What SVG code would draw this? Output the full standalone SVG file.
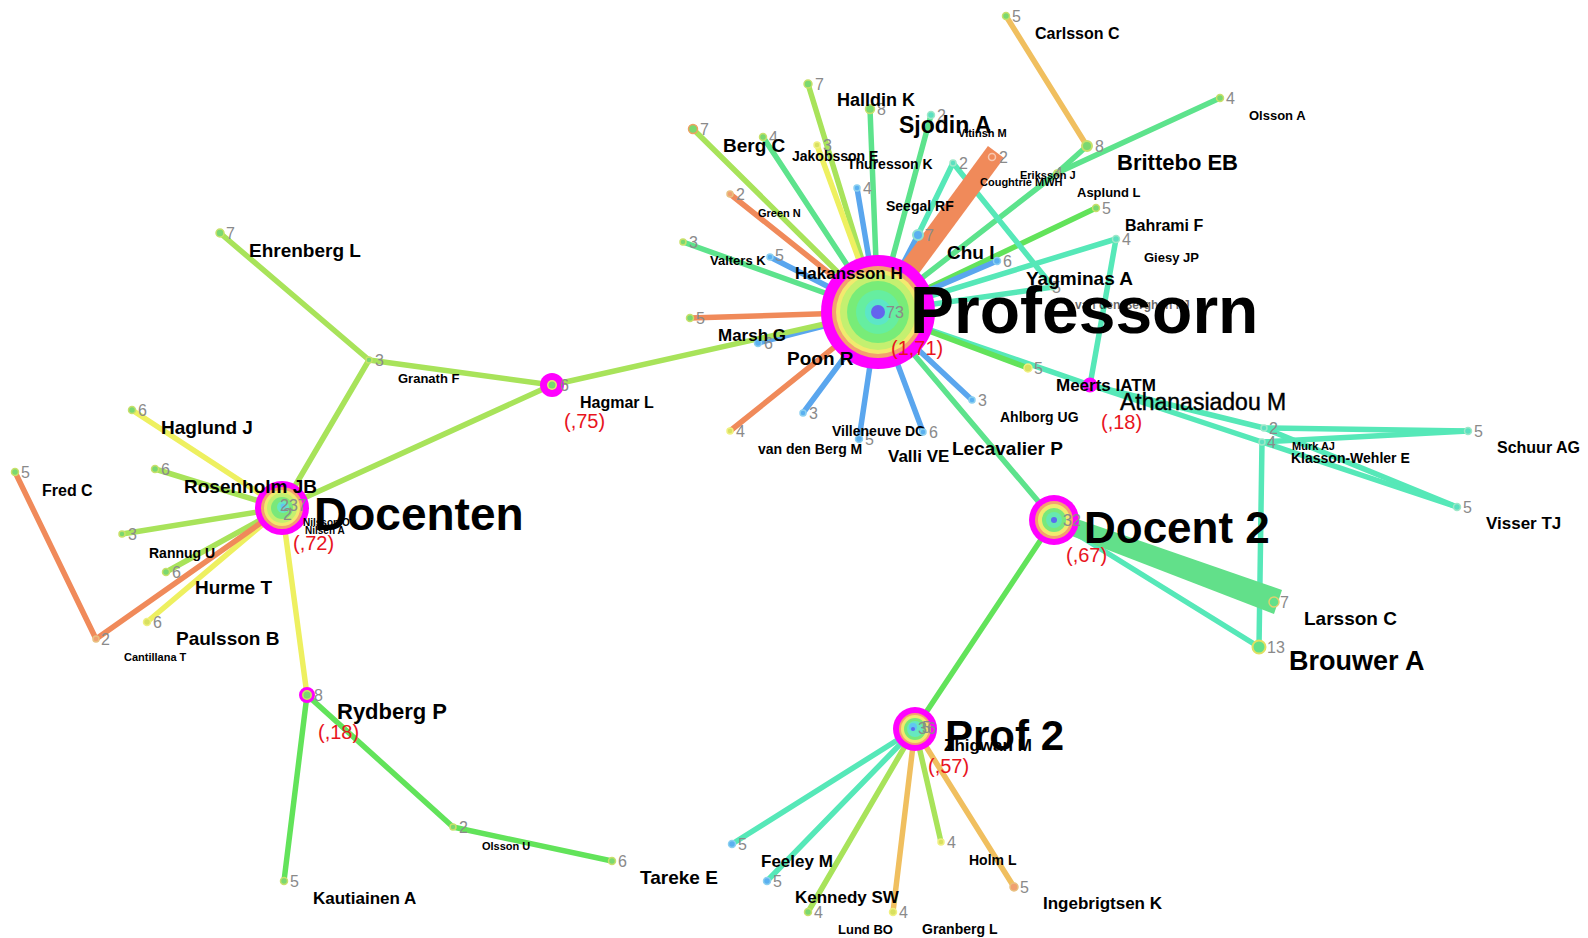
<svg xmlns="http://www.w3.org/2000/svg" width="1588" height="938" viewBox="0 0 1588 938">
<style>
.e{stroke-width:5.5;stroke-linecap:round;fill:none}
.G{stroke:#5de38c}.A{stroke:#56e8b8}.B{stroke:#62e35a}.YG{stroke:#a8e35a}.Y{stroke:#eef060}.O{stroke:#f08a5a}.LO{stroke:#f0bf5f}.BL{stroke:#5aa6ee}
.d{stroke-width:1.5}
.dg{fill:#7ad870;stroke:#c8e06a}.da{fill:#5ce0c0;stroke:#9ee8c8}.db{fill:#5ab0f0;stroke:#8cd0f0}.do{fill:#f0a070;stroke:#e8c080}.dy{fill:#d8e060;stroke:#f0f080}
.n{font-family:"Liberation Sans",Arial,sans-serif;font-size:16px;fill:#8a8a8a}
.l{font-family:"Liberation Sans",Arial,sans-serif;font-weight:bold;fill:#000}
.r{font-family:"Liberation Sans",Arial,sans-serif;font-size:20px;fill:#e8141e}
</style>
<rect width="1588" height="938" fill="#fff"/>
<g id="connectors">
<line class="e YG" x1="878" y1="312" x2="808" y2="84"/>
<line class="e G" x1="878" y1="312" x2="870" y2="109"/>
<line class="e G" x1="878" y1="312" x2="931" y2="115"/>
<line class="e YG" x1="878" y1="312" x2="693" y2="129"/>
<line class="e G" x1="878" y1="312" x2="763" y2="137"/>
<line class="e Y" x1="878" y1="312" x2="817" y2="145"/>
<line class="e BL" x1="878" y1="312" x2="857" y2="188"/>
<line class="e O" x1="878" y1="312" x2="730" y2="194"/>
<line class="e G" x1="878" y1="312" x2="683" y2="242"/>
<line class="e BL" x1="878" y1="312" x2="770" y2="257"/>
<line class="e O" x1="878" y1="312" x2="690" y2="318"/>
<line class="e BL" x1="878" y1="312" x2="758" y2="343"/>
<line class="e YG" x1="878" y1="312" x2="552" y2="385"/>
<line class="e O" x1="878" y1="312" x2="730" y2="431"/>
<line class="e BL" x1="878" y1="312" x2="803" y2="413"/>
<line class="e BL" x1="878" y1="312" x2="859" y2="439"/>
<line class="e BL" x1="878" y1="312" x2="923" y2="432"/>
<line class="e BL" x1="878" y1="312" x2="972" y2="400"/>
<line class="e G" x1="878" y1="312" x2="1054" y2="520"/>
<line class="e A" x1="878" y1="312" x2="1090" y2="385"/>
<line class="e B" x1="878" y1="312" x2="1028" y2="368"/>
<line class="e A" x1="878" y1="312" x2="1053" y2="287"/>
<line class="e A" x1="878" y1="312" x2="1116" y2="239"/>
<line class="e B" x1="878" y1="312" x2="1096" y2="208"/>
<line class="e G" x1="878" y1="312" x2="1057" y2="173"/>
<line class="e G" x1="1057" y1="173" x2="1087" y2="146"/>
<line class="e G" x1="1057" y1="173" x2="1220" y2="98"/>
<line class="e LO" x1="1006" y1="16" x2="1087" y2="146"/>
<line class="e BL" x1="878" y1="312" x2="997" y2="261"/>
<line class="e BL" x1="878" y1="312" x2="918" y2="235"/>
<line class="e A" x1="918" y1="235" x2="953" y2="163"/>
<line class="e A" x1="953" y1="163" x2="1053" y2="287"/>
<line x1="878" y1="312" x2="996" y2="152" stroke="#f08a5a" stroke-width="20"/>
<line class="e A" x1="1090" y1="385" x2="1116" y2="239"/>
<line class="e A" x1="1090" y1="385" x2="1264" y2="428"/>
<line class="e A" x1="1090" y1="385" x2="1262" y2="442"/>
<line class="e A" x1="1264" y1="428" x2="1468" y2="431"/>
<line class="e A" x1="1262" y1="442" x2="1468" y2="431"/>
<line class="e A" x1="1264" y1="428" x2="1457" y2="507"/>
<line class="e A" x1="1262" y1="442" x2="1457" y2="507"/>
<line class="e A" x1="1262" y1="442" x2="1259" y2="647"/>
<line class="e A" x1="1054" y1="520" x2="1259" y2="647"/>
<polygon points="1057,512 1051,528 1274,614 1282,590" fill="#62e08a"/>
<line class="e B" x1="1054" y1="520" x2="915" y2="729"/>
<line class="e A" x1="915" y1="729" x2="732" y2="844"/>
<line class="e A" x1="915" y1="729" x2="767" y2="881"/>
<line class="e YG" x1="915" y1="729" x2="808" y2="912"/>
<line class="e LO" x1="915" y1="729" x2="893" y2="912"/>
<line class="e YG" x1="915" y1="729" x2="941" y2="842"/>
<line class="e LO" x1="915" y1="729" x2="1014" y2="887"/>
<line class="e YG" x1="552" y1="385" x2="369" y2="360"/>
<line class="e YG" x1="369" y1="360" x2="220" y2="233"/>
<line class="e YG" x1="369" y1="360" x2="282" y2="508"/>
<line class="e YG" x1="552" y1="385" x2="282" y2="508"/>
<line class="e Y" x1="282" y1="508" x2="132" y2="410"/>
<line class="e YG" x1="282" y1="508" x2="155" y2="469"/>
<line class="e YG" x1="282" y1="508" x2="122" y2="534"/>
<line class="e YG" x1="282" y1="508" x2="166" y2="572"/>
<line class="e Y" x1="282" y1="508" x2="147" y2="622"/>
<line class="e O" x1="282" y1="508" x2="96" y2="639"/>
<line class="e O" x1="96" y1="639" x2="15" y2="472"/>
<line class="e Y" x1="282" y1="508" x2="307" y2="695"/>
<line class="e B" x1="307" y1="695" x2="284" y2="881"/>
<line class="e B" x1="307" y1="695" x2="453" y2="827"/>
<line class="e B" x1="453" y1="827" x2="612" y2="861"/>
</g>
<g id="professorn">
<circle cx="878" cy="312" r="57" fill="#ff00ff"/>
<circle cx="878" cy="312" r="46" fill="#f4a070"/>
<circle cx="878" cy="312" r="42" fill="#f2ea6e"/>
<circle cx="878" cy="312" r="38" fill="#c4f070"/>
<circle cx="878" cy="312" r="31" fill="#78ec78"/>
<circle cx="878" cy="312" r="22" fill="#66eea0"/>
<circle cx="878" cy="312" r="13" fill="#5ce6c8"/>
<circle cx="878" cy="312" r="7" fill="#6464ee"/>
<text class="n" x="886" y="318" font-size="17">73</text>
<text class="l" x="910" y="333" font-size="66">Professorn</text>
<text class="r" x="891" y="355">(1,71)</text>
</g>
<g id="docent2">
<circle cx="1054" cy="520" r="25" fill="#ff00ff"/>
<circle cx="1054" cy="520" r="19" fill="#f4a070"/>
<circle cx="1054" cy="520" r="16" fill="#f2ea6e"/>
<circle cx="1054" cy="520" r="12" fill="#7ae87a"/>
<circle cx="1054" cy="520" r="8" fill="#66e8b0"/>
<circle cx="1054" cy="520" r="3" fill="#5a6cee"/>
<text class="n" x="1063" y="526">32</text>
<text class="l" x="1084" y="543" font-size="44">Docent 2</text>
<text class="r" x="1066" y="562">(,67)</text>
</g>
<g id="prof2">
<circle cx="915" cy="729" r="22" fill="#ff00ff"/>
<circle cx="915" cy="729" r="16" fill="#f4a070"/>
<circle cx="915" cy="729" r="14" fill="#f2ea6e"/>
<circle cx="915" cy="729" r="11" fill="#7ae87a"/>
<circle cx="915" cy="729" r="8" fill="#66e8c0"/>
<circle cx="913" cy="727" r="4" fill="#60c8f0"/>
<circle cx="913" cy="729" r="2" fill="#5a6cee"/>
<text class="n" x="918" y="734" font-size="15">36</text>
<text class="n" x="922" y="733" font-size="15">5</text>
<text class="l" x="945" y="750" font-size="42">Prof 2</text>
<text class="l" x="944" y="751" font-size="17">Zhigwan M</text>
<text class="r" x="928" y="773">(,57)</text>
</g>
<g id="docenten">
<circle cx="282" cy="508" r="27" fill="#ff00ff"/>
<circle cx="282" cy="508" r="21" fill="#f4a070"/>
<circle cx="282" cy="508" r="18" fill="#f2ea6e"/>
<circle cx="282" cy="508" r="15" fill="#c4f070"/>
<circle cx="282" cy="508" r="11" fill="#7ae87a"/>
<circle cx="283" cy="507" r="6" fill="#66e8c0"/>
<circle cx="283" cy="506" r="2.5" fill="#60c8f0"/>
<text class="n" x="280" y="511">237</text>
<text class="n" x="283" y="520">2</text>
<text class="l" x="303" y="526" font-size="10">Nilsson O</text>
<text class="l" x="305" y="534" font-size="10">Nilsen A</text>
<text class="l" x="314" y="530" font-size="46">Docenten</text>
<text class="r" x="293" y="550">(,72)</text>
</g>
<g id="hagmar">
<circle cx="552" cy="385" r="12" fill="#ff00ff"/>
<circle cx="552" cy="385" r="5" fill="#e8e870"/>
<circle cx="552" cy="385" r="3.5" fill="#7ad870"/>
<text class="n" x="560" y="391">6</text>
<text class="l" x="580" y="408" font-size="16">Hagmar L</text>
<text class="r" x="564" y="428">(,75)</text>
</g>
<g id="meerts">
<circle cx="1090" cy="385" r="7.5" fill="#ff00ff"/>
<circle cx="1090" cy="385" r="3" fill="#e070e0"/>
<text class="l" x="1056" y="391" font-size="17">Meerts IATM</text>
<text class="r" x="1101" y="429">(,18)</text>
</g>
<g id="rydberg">
<circle cx="307" cy="695" r="6.5" fill="#c8e860" stroke="#ff00ff" stroke-width="3"/>
<circle cx="307" cy="695" r="3.5" fill="#7ad870"/>
<text class="n" x="314" y="701">8</text>
<text class="l" x="337" y="719" font-size="22">Rydberg P</text>
<text class="r" x="318" y="739">(,18)</text>
</g>
<g id="nodes">
<g id="n-top7"><circle class="d dg" cx="808" cy="84" r="4"/><text class="n" x="815" y="90">7</text></g>
<g id="n-halldin"><circle class="d dg" cx="870" cy="109" r="4.5"/><text class="n" x="877" y="115">8</text><text class="l" x="837" y="106" font-size="18">Halldin K</text></g>
<g id="n-sjodin"><circle class="d da" cx="931" cy="115" r="3.5"/><text class="n" x="937" y="121">2</text><text class="l" x="899" y="133" font-size="23">Sjodin A</text></g>
<g id="n-vitinsh"><circle cx="992" cy="157" r="3.5" fill="none" stroke="#f8c8b0" stroke-width="1.5"/><text class="n" x="999" y="163">2</text><text class="l" x="958" y="137" font-size="11">Vitinsh M</text></g>
<g id="n-left7"><circle class="d dg" cx="693" cy="129" r="4.5" style="stroke:#f0a060"/><text class="n" x="700" y="135">7</text></g>
<g id="n-berg"><circle class="d dg" cx="763" cy="137" r="3.5"/><text class="n" x="769" y="143">4</text><text class="l" x="723" y="152" font-size="19">Berg C</text></g>
<g id="n-jakobsson"><circle class="d dy" cx="817" cy="145" r="3"/><text class="n" x="823" y="151">3</text><text class="l" x="792" y="161" font-size="14">Jakobsson E</text></g>
<g id="n-thuresson"><text class="l" x="847" y="169" font-size="14">Thuresson K</text></g>
<g id="n-blue4"><circle class="d db" cx="857" cy="188" r="3"/><text class="n" x="863" y="194">4</text></g>
<g id="n-green"><circle class="d do" cx="730" cy="194" r="3"/><text class="n" x="736" y="200">2</text><text class="l" x="758" y="217" font-size="11">Green N</text></g>
<g id="n-valters3"><circle class="d dg" cx="683" cy="242" r="3"/><text class="n" x="689" y="248">3</text></g>
<g id="n-valters"><circle class="d db" cx="770" cy="257" r="3"/><text class="n" x="775" y="261">5</text><text class="l" x="710" y="265" font-size="13">Valters K</text></g>
<g id="n-seegal"><circle cx="918" cy="235" r="5" fill="#5ab0f0" stroke="#8ee0d0" stroke-width="2"/><text class="n" x="925" y="241">7</text><text class="l" x="886" y="211" font-size="14">Seegal RF</text></g>
<g id="n-seegal2"><circle class="d da" cx="953" cy="163" r="3"/><text class="n" x="959" y="169">2</text></g>
<g id="n-chu"><circle class="d db" cx="997" cy="261" r="3.5"/><text class="n" x="1003" y="267">6</text><text class="l" x="947" y="259" font-size="19">Chu I</text></g>
<g id="n-coughtrie"><text class="l" x="980" y="186" font-size="11">Coughtrie MWH</text></g>
<g id="n-eriksson"><circle class="d dg" cx="1057" cy="173" r="3"/><text class="n" x="1054" y="179">4</text><text class="l" x="1020" y="179" font-size="11">Eriksson J</text></g>
<g id="n-brittebo"><circle cx="1087" cy="146" r="5" fill="#7ad870" stroke="#c8e06a" stroke-width="2"/><text class="n" x="1095" y="152">8</text><text class="l" x="1117" y="170" font-size="22">Brittebo EB</text></g>
<g id="n-carlsson"><circle class="d dg" cx="1006" cy="16" r="3.5"/><text class="n" x="1012" y="22">5</text><text class="l" x="1035" y="39" font-size="16">Carlsson C</text></g>
<g id="n-olssona"><circle class="d dg" cx="1220" cy="98" r="3.5"/><text class="n" x="1226" y="104">4</text><text class="l" x="1249" y="120" font-size="13">Olsson A</text></g>
<g id="n-asplund"><circle class="d dg" cx="1096" cy="208" r="3.5"/><text class="n" x="1102" y="214">5</text><text class="l" x="1077" y="197" font-size="13">Asplund L</text></g>
<g id="n-bahrami"><circle class="d da" cx="1116" cy="239" r="3.5"/><text class="n" x="1122" y="245">4</text><text class="l" x="1125" y="231" font-size="16">Bahrami F</text><text class="l" x="1144" y="262" font-size="13">Giesy JP</text></g>
<g id="n-yagminas"><circle class="d da" cx="1053" cy="287" r="3"/><text class="n" x="1052" y="293">5</text><text class="l" x="1026" y="285" font-size="19">Yagminas A</text></g>
<g id="n-vanberghen"><text class="l" x="1075" y="309" font-size="12" fill-opacity="0.6">van den Berghen FJ</text></g>
<g id="n-hakansson"><text class="l" x="795" y="279" font-size="17">Hakansson H</text></g>
<g id="n-orange5"><circle class="d dg" cx="690" cy="318" r="3.5"/><text class="n" x="696" y="324">5</text></g>
<g id="n-marsh"><circle class="d db" cx="758" cy="343" r="3.5"/><text class="n" x="764" y="349">6</text><text class="l" x="718" y="341" font-size="17">Marsh G</text></g>
<g id="n-poon"><text class="l" x="787" y="365" font-size="19">Poon R</text></g>
<g id="n-orange4"><circle class="d dy" cx="730" cy="431" r="3"/><text class="n" x="736" y="437">4</text></g>
<g id="n-blue3"><circle class="d db" cx="803" cy="413" r="3"/><text class="n" x="809" y="419">3</text></g>
<g id="n-vandenberg"><circle class="d db" cx="859" cy="439" r="3.5"/><text class="n" x="865" y="445">5</text><text class="l" x="758" y="454" font-size="14">van den Berg M</text></g>
<g id="n-villeneuve"><text class="l" x="832" y="436" font-size="14">Villeneuve DC</text></g>
<g id="n-valli"><circle class="d db" cx="923" cy="432" r="3"/><text class="n" x="929" y="438">6</text><text class="l" x="888" y="462" font-size="17">Valli VE</text></g>
<g id="n-ahlborg"><circle class="d db" cx="972" cy="400" r="3"/><text class="n" x="978" y="406">3</text><text class="l" x="1000" y="422" font-size="14">Ahlborg UG</text></g>
<g id="n-lecavalier"><text class="l" x="952" y="455" font-size="19">Lecavalier P</text></g>
<g id="n-green5"><circle class="d dy" cx="1028" cy="368" r="4"/><text class="n" x="1034" y="374">5</text></g>
<g id="n-athanasiadou"><text x="1120" y="410" font-family="Liberation Sans,Arial,sans-serif" font-size="23" fill="#000" stroke="#000" stroke-width="0.4">Athanasiadou M</text></g>
<g id="n-murk"><circle class="d da" cx="1264" cy="428" r="3"/><text class="n" x="1269" y="434">2</text><text class="l" x="1292" y="450" font-size="11">Murk AJ</text></g>
<g id="n-klasson"><circle class="d da" cx="1262" cy="442" r="3"/><text class="n" x="1267" y="448">4</text><text class="l" x="1291" y="463" font-size="14">Klasson-Wehler E</text></g>
<g id="n-schuur"><circle class="d da" cx="1468" cy="431" r="3.5"/><text class="n" x="1474" y="437">5</text><text class="l" x="1497" y="453" font-size="16">Schuur AG</text></g>
<g id="n-visser"><circle class="d da" cx="1457" cy="507" r="3.5"/><text class="n" x="1463" y="513">5</text><text class="l" x="1486" y="529" font-size="17">Visser TJ</text></g>
<g id="n-larsson"><circle cx="1274" cy="602" r="5" fill="#62e08a" stroke="#e0d070" stroke-width="1.5"/><text class="n" x="1280" y="608">7</text><text class="l" x="1304" y="625" font-size="19">Larsson C</text></g>
<g id="n-brouwer"><circle cx="1259" cy="647" r="6.5" fill="#62e08a" stroke="#e0e060" stroke-width="2"/><text class="n" x="1267" y="653">13</text><text class="l" x="1289" y="670" font-size="27">Brouwer A</text></g>
<g id="n-prof2-5a"><circle class="d db" cx="732" cy="844" r="3.5"/><text class="n" x="738" y="850">5</text></g>
<g id="n-feeley"><circle class="d db" cx="767" cy="881" r="3.5"/><text class="n" x="773" y="887">5</text><text class="l" x="761" y="867" font-size="17">Feeley M</text></g>
<g id="n-kennedy"><circle class="d dg" cx="808" cy="912" r="3.5"/><text class="n" x="814" y="918">4</text><text class="l" x="795" y="903" font-size="17">Kennedy SW</text></g>
<g id="n-lund"><circle class="d dy" cx="893" cy="912" r="3.5"/><text class="n" x="899" y="918">4</text><text class="l" x="838" y="934" font-size="13">Lund BO</text></g>
<g id="n-granberg"><text class="l" x="922" y="934" font-size="14">Granberg L</text></g>
<g id="n-holm"><circle class="d dy" cx="941" cy="842" r="3"/><text class="n" x="947" y="848">4</text><text class="l" x="969" y="865" font-size="14">Holm L</text></g>
<g id="n-ingebrigtsen"><circle class="d do" cx="1014" cy="887" r="4"/><text class="n" x="1020" y="893">5</text><text class="l" x="1043" y="909" font-size="17">Ingebrigtsen K</text></g>
<g id="n-tareke"><circle class="d dg" cx="612" cy="861" r="3.5"/><text class="n" x="618" y="867">6</text><text class="l" x="640" y="884" font-size="19">Tareke E</text></g>
<g id="n-olssonu"><circle class="d dg" cx="453" cy="827" r="3"/><text class="n" x="459" y="833">2</text><text class="l" x="482" y="850" font-size="11">Olsson U</text></g>
<g id="n-kautiainen"><circle class="d dg" cx="284" cy="881" r="3.5"/><text class="n" x="290" y="887">5</text><text class="l" x="313" y="904" font-size="17">Kautiainen A</text></g>
<g id="n-granath"><circle class="d dg" cx="369" cy="360" r="3"/><text class="n" x="375" y="366">3</text><text class="l" x="398" y="383" font-size="13">Granath F</text></g>
<g id="n-ehrenberg"><circle class="d dg" cx="220" cy="233" r="4"/><text class="n" x="226" y="239">7</text><text class="l" x="249" y="257" font-size="19">Ehrenberg L</text></g>
<g id="n-haglund"><circle class="d dg" cx="132" cy="410" r="3.5"/><text class="n" x="138" y="416">6</text><text class="l" x="161" y="434" font-size="19">Haglund J</text></g>
<g id="n-rosenholm"><circle class="d dg" cx="155" cy="469" r="3.5"/><text class="n" x="161" y="475">6</text><text class="l" x="184" y="493" font-size="19">Rosenholm JB</text></g>
<g id="n-rannug"><circle class="d dg" cx="122" cy="534" r="3"/><text class="n" x="128" y="540">3</text><text class="l" x="149" y="558" font-size="14">Rannug U</text></g>
<g id="n-hurme"><circle class="d dg" cx="166" cy="572" r="3.5"/><text class="n" x="172" y="578">6</text><text class="l" x="195" y="594" font-size="19">Hurme T</text></g>
<g id="n-paulsson"><circle class="d dy" cx="147" cy="622" r="3.5"/><text class="n" x="153" y="628">6</text><text class="l" x="176" y="645" font-size="19">Paulsson B</text></g>
<g id="n-cantillana"><circle class="d do" cx="96" cy="639" r="3"/><text class="n" x="101" y="645">2</text><text class="l" x="124" y="661" font-size="11">Cantillana T</text></g>
<g id="n-fred"><circle class="d dg" cx="15" cy="472" r="3.5"/><text class="n" x="21" y="478">5</text><text class="l" x="42" y="496" font-size="16">Fred C</text></g>
</g>
</svg>
